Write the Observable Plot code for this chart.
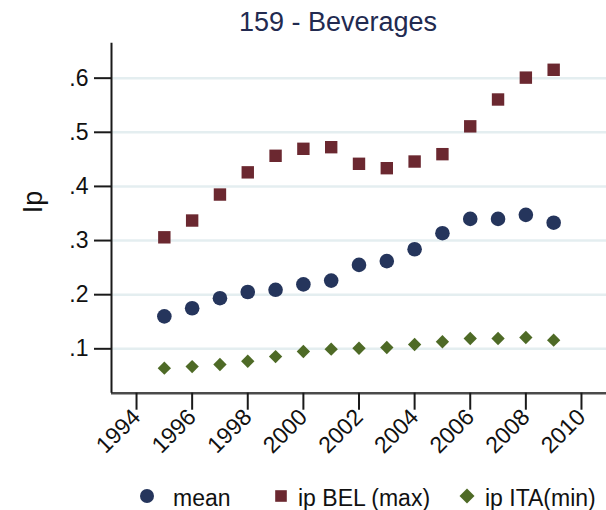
<!DOCTYPE html>
<html>
<head>
<meta charset="utf-8">
<script src="https://cdn.jsdelivr.net/npm/d3@7"></script>
<script src="https://cdn.jsdelivr.net/npm/@observablehq/plot@0.6"></script>
<style>
  html, body { margin: 0; padding: 0; background: #fff; }
  #wrap { position: relative; width: 606px; height: 510px; overflow: hidden; font-family: "Liberation Sans", Arial, sans-serif; }
  #title { position: absolute; left: 0; top: 9px; width: 536px; padding-left: 70px; text-align: center; font-size: 27px; line-height: 27px; color: #222a50; }
  #chart { position: absolute; left: 0; top: 40px; }
  .lg { position: absolute; font-size: 23px; line-height: 23px; color: #111; white-space: nowrap; }
  .sw { position: absolute; }
</style>
</head>
<body>
<div id="wrap">
  <div id="title"></div>
  <div id="chart"></div>
  <div id="legend"></div>
</div>
<script>
const chartTitle = "159 - Beverages";
const yLabel = "Ip";
const years = [1995, 1996, 1997, 1998, 1999, 2000, 2001, 2002, 2003, 2004, 2005, 2006, 2007, 2008, 2009];
const meanVals = [0.160, 0.175, 0.1935, 0.205, 0.209, 0.219, 0.226, 0.255, 0.262, 0.284, 0.3136, 0.340, 0.340, 0.3475, 0.333];
const belVals = [0.306, 0.337, 0.385, 0.426, 0.4566, 0.4695, 0.4725, 0.4418, 0.4337, 0.446, 0.4596, 0.511, 0.5606, 0.601, 0.6155];
const itaVals = [0.0642, 0.0672, 0.071, 0.077, 0.0857, 0.095, 0.0993, 0.101, 0.1024, 0.108, 0.113, 0.119, 0.119, 0.1209, 0.116];
const seriesNames = ["mean", "ip BEL (max)", "ip ITA(min)"];
const seriesColors = ["#25355c", "#6b2830", "#4e6a26"];
const xTicks = [1994, 1996, 1998, 2000, 2002, 2004, 2006, 2008, 2010];
const yTicks = [0.1, 0.2, 0.3, 0.4, 0.5, 0.6];
const xDomain = [1993.1, 2010.9];
const yDomain = [0.018, 0.6646];

const meanData = years.map((yr, i) => ({year: yr, value: meanVals[i]}));
const belData = years.map((yr, i) => ({year: yr, value: belVals[i]}));
const itaData = years.map((yr, i) => ({year: yr, value: itaVals[i]}));

document.getElementById("title").textContent = chartTitle;

const plot = Plot.plot({
  width: 606,
  height: 430,
  marginTop: 2.7,
  marginBottom: 77.3,
  marginLeft: 111,
  marginRight: 0,
  style: {fontSize: "23px", fontFamily: "'Liberation Sans', Arial, sans-serif", color: "#111", background: "white", overflow: "visible"},
  x: {domain: xDomain},
  y: {domain: yDomain},
  marks: [
    Plot.gridY(yTicks, {stroke: "#e4eef0", strokeOpacity: 1, strokeWidth: 2.5}),
    Plot.ruleY([yDomain[0]], {stroke: "#4a4a4a", strokeWidth: 2.5}),
    Plot.ruleX([xDomain[0]], {stroke: "#1a1a1a", strokeWidth: 2}),
    Plot.axisY(yTicks, {tickSize: 17, tickPadding: 6, strokeWidth: 2, stroke: "#1a1a1a",
      tickFormat: d => d3.format(".1f")(d).replace(/^0/, ""), label: null}),
    Plot.axisX(xTicks, {tickSize: 17, tickPadding: 3, tickRotate: -45, strokeWidth: 2, stroke: "#1a1a1a",
      tickFormat: d => String(d), label: null}),
    Plot.text([yLabel], {frameAnchor: "left", rotate: -90, dx: -78, dy: -5, fontSize: 27, lineAnchor: "middle", fill: "#111"}),
    Plot.dot(itaData, {x: "year", y: "value", symbol: "diamond2", r: 6, fill: seriesColors[2]}),
    Plot.dot(meanData, {x: "year", y: "value", symbol: "circle", r: 7.3, fill: seriesColors[0]}),
    Plot.dot(belData, {x: "year", y: "value", symbol: "square", r: 7, fill: seriesColors[1]})
  ]
});
document.getElementById("chart").appendChild(plot);

// Legend (HTML, below the chart)
const legend = document.getElementById("legend");
const legendLayout = [
  {sym: "circle", cx: 146.7, tx: 173},
  {sym: "square", cx: 281, tx: 298},
  {sym: "diamond", cx: 467, tx: 485}
];
const ns = "http://www.w3.org/2000/svg";
legendLayout.forEach((it, i) => {
  const svg = document.createElementNS(ns, "svg");
  svg.setAttribute("width", 20); svg.setAttribute("height", 20);
  svg.setAttribute("class", "sw");
  svg.style.left = (it.cx - 10) + "px";
  svg.style.top = (496 - 10) + "px";
  let shape;
  if (it.sym === "circle") {
    shape = document.createElementNS(ns, "circle");
    shape.setAttribute("cx", 10); shape.setAttribute("cy", 10); shape.setAttribute("r", 7);
  } else if (it.sym === "square") {
    shape = document.createElementNS(ns, "rect");
    shape.setAttribute("x", 4.2); shape.setAttribute("y", 4.2); shape.setAttribute("width", 11.6); shape.setAttribute("height", 11.6);
  } else {
    shape = document.createElementNS(ns, "path");
    shape.setAttribute("d", "M10,2.5L17.5,10L10,17.5L2.5,10Z");
  }
  shape.setAttribute("fill", seriesColors[i]);
  svg.appendChild(shape);
  legend.appendChild(svg);
  const t = document.createElement("div");
  t.className = "lg";
  t.style.left = it.tx + "px";
  t.style.top = "486.5px";
  t.textContent = seriesNames[i];
  legend.appendChild(t);
});
</script>
</body>
</html>
